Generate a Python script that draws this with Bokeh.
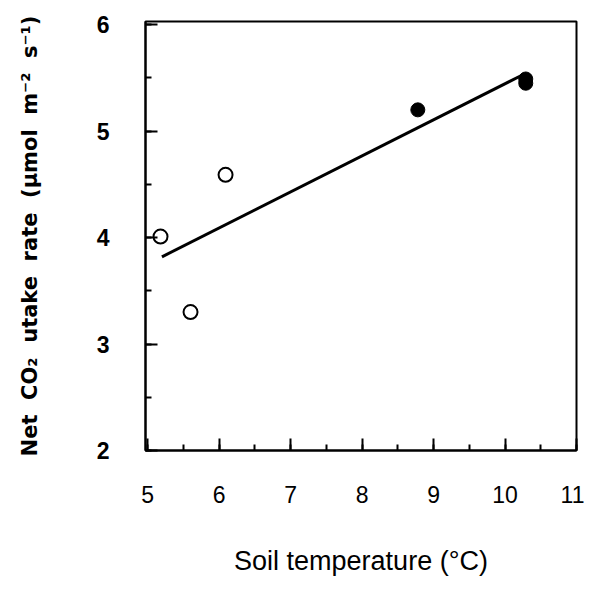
from bokeh.plotting import figure
from bokeh.models import SingleIntervalTicker, Range1d
from bokeh.embed import file_html
from bokeh.resources import INLINE

# data
open_temp = [5.18, 5.6, 6.09]
open_uptake = [4.01, 3.30, 4.59]
filled_temp = [8.78, 10.29, 10.29]
filled_uptake = [5.20, 5.49, 5.45]
fit_temp = [5.2, 10.25]
fit_slope = 0.3386
fit_intercept = 2.059
fit_uptake = [fit_intercept + fit_slope * t for t in fit_temp]

FONT = "Liberation Sans"
NB = "\u00a0"

p = figure(width=584, height=578, output_backend="svg", toolbar_location=None,
           x_range=Range1d(4.97, 11.0), y_range=Range1d(2.0, 6.03),
           min_border_left=145, min_border_right=8, min_border_top=21, min_border_bottom=128)
p.background_fill_color = "white"
p.border_fill_color = "white"
p.grid.visible = False
p.outline_line_color = "black"
p.outline_line_width = 2

p.xaxis.ticker = SingleIntervalTicker(interval=1, num_minor_ticks=2)
p.yaxis.ticker = SingleIntervalTicker(interval=1, num_minor_ticks=2)
for ax in (p.xaxis, p.yaxis):
    ax.axis_line_width = 2
    ax.axis_line_color = "black"
    ax.major_tick_in = 12
    ax.major_tick_out = 0
    ax.minor_tick_in = 6
    ax.minor_tick_out = 0
    ax.major_tick_line_width = 2
    ax.minor_tick_line_width = 2
    ax.major_tick_line_color = "black"
    ax.minor_tick_line_color = "black"
    ax.major_label_text_font = FONT
    ax.major_label_text_color = "black"
    ax.axis_label_text_font = FONT
    ax.axis_label_text_color = "black"
    ax.axis_label_text_font_style = "normal"

p.xaxis.major_label_text_font_size = "23px"
p.xaxis.major_label_standoff = 35
p.xaxis.axis_label = "Soil temperature (°C)"
p.xaxis.axis_label_text_font_size = "27px"
p.xaxis.axis_label_standoff = 40

p.yaxis.major_label_text_font_size = "23px"
p.yaxis.major_label_text_font_style = "bold"
p.yaxis.major_label_standoff = 36
p.yaxis.axis_label = NB.join(["Net", "CO₂", "utake", "rate", "(µmol", "m⁻²", "s⁻¹)"]).replace(NB, " " + NB)
p.yaxis.axis_label_text_font = "DejaVu Sans"
p.yaxis.axis_label_text_font_size = "21px"
p.yaxis.axis_label_text_font_style = "bold"
p.yaxis.axis_label_standoff = 52

p.line(fit_temp, fit_uptake, line_color="black", line_width=3)
p.scatter(open_temp, open_uptake, size=14, marker="circle", fill_color="white",
          line_color="black", line_width=2)
p.scatter(filled_temp, filled_uptake, size=14, marker="circle", fill_color="black",
          line_color="black", line_width=1)

open("out.html", "w").write(file_html(p, INLINE))
